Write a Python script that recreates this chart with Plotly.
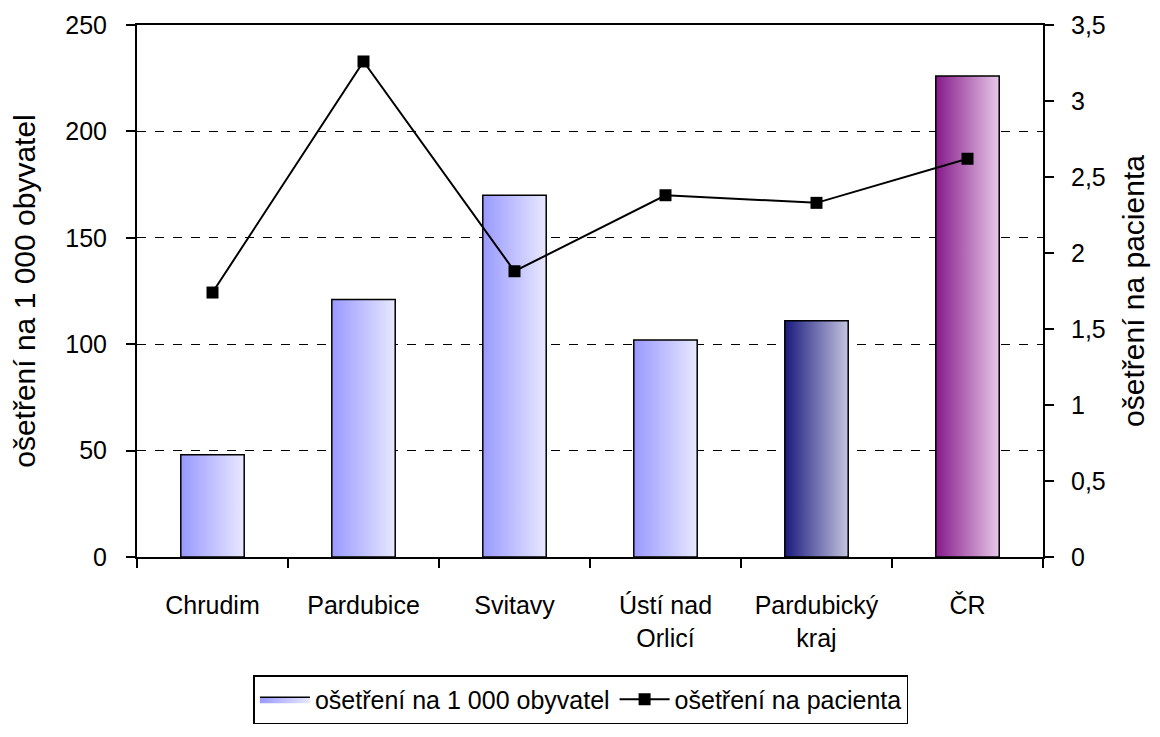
import plotly.graph_objects as go

categories = ["Chrudim", "Pardubice", "Svitavy", "Ústí nad<br>Orlicí", "Pardubický<br>kraj", "ČR"]
per_1000 = [48, 121, 170, 102, 111, 226]
per_patient = [1.74, 3.26, 1.88, 2.38, 2.33, 2.62]
bar_series_name = "ošetření na 1 000 obyvatel"
line_series_name = "ošetření na pacienta"
left_ticks = [0, 50, 100, 150, 200, 250]
right_ticks = [0, 0.5, 1, 1.5, 2, 2.5, 3, 3.5]

gradients = [
    ["#9999ff", "#e8e8ff"],
    ["#9999ff", "#e8e8ff"],
    ["#9999ff", "#e8e8ff"],
    ["#9999ff", "#e8e8ff"],
    ["#1a1a7e", "#c4c4e0"],
    ["#861a8a", "#e8c8e8"],
]
HALF = 0.21
FONT = "Liberation Sans Narrow, Arial Narrow, Liberation Sans, Arial, sans-serif"
FS = 25

fig = go.Figure()
for i, (v, g) in enumerate(zip(per_1000, gradients)):
    fig.add_trace(go.Scatter(
        x=[i - HALF, i + HALF, i + HALF, i - HALF, i - HALF],
        y=[0, 0, v, v, 0],
        mode="lines",
        fill="toself",
        fillgradient=dict(type="horizontal", colorscale=[[0, g[0]], [1, g[1]]]),
        line=dict(color="black", width=1.5),
        name=bar_series_name,
        showlegend=(i == 0),
        legendgroup="bars",
        yaxis="y",
    ))

fig.add_trace(go.Scatter(
    x=list(range(len(categories))),
    y=per_patient,
    mode="lines+markers",
    line=dict(color="black", width=2),
    marker=dict(symbol="square", size=12, color="black"),
    name=line_series_name,
    yaxis="y2",
))

fig.update_layout(
    width=1160, height=737,
    margin=dict(l=129, r=125, t=17, b=188, autoexpand=False),
    paper_bgcolor="white", plot_bgcolor="white",
    separators=", ",
    font=dict(family=FONT, size=FS, color="black"),
    xaxis=dict(
        range=[-0.5, len(categories) - 0.5],
        tickvals=list(range(len(categories))),
        ticktext=categories,
        ticks="",
        showgrid=False, zeroline=False,
        showline=True, linecolor="black", linewidth=2, mirror=True,
        minor=dict(tickvals=[k - 0.5 for k in range(len(categories) + 1)],
                   ticks="outside", ticklen=9, tickwidth=1.5, tickcolor="black", showgrid=False),
        ticklabelstandoff=25,
        automargin=False,
    ),
    yaxis=dict(
        range=[0, 250], tickvals=left_ticks,
        ticks="outside", ticklen=9, tickwidth=1.5, tickcolor="black",
        showline=True, linecolor="black", linewidth=2,
        showgrid=True, gridcolor="black", gridwidth=1, griddash="dash",
        zeroline=False,
        title=dict(text=bar_series_name, standoff=36),
        ticklabelstandoff=14,
        automargin=False,
    ),
    yaxis2=dict(
        range=[0, 3.5], tickvals=right_ticks,
        overlaying="y", side="right",
        ticks="outside", ticklen=9, tickwidth=1.5, tickcolor="black",
        showline=True, linecolor="black", linewidth=2,
        showgrid=False, zeroline=False,
        tickformat=".1~f",
        title=dict(text=line_series_name, standoff=18),
        ticklabelstandoff=12,
        automargin=False,
    ),
    legend=dict(
        orientation="h", x=0.49, xanchor="center", y=-0.222, yanchor="top",
        bordercolor="black", borderwidth=1.5, bgcolor="white",
        traceorder="normal",
        itemwidth=50,
    ),
)
fig.write_html("out.html")
